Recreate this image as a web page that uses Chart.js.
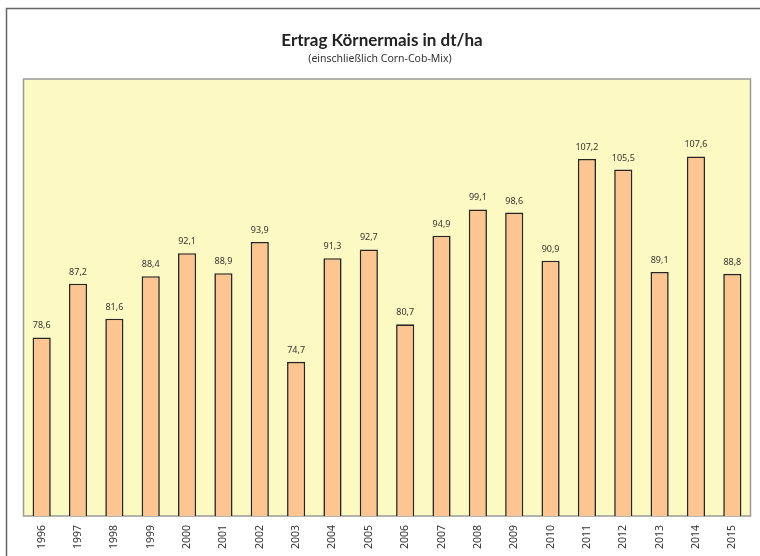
<!DOCTYPE html>
<html>
<head>
<meta charset="utf-8">
<script src="https://cdn.jsdelivr.net/npm/chart.js@4"></script>
<style>
html,body{margin:0;padding:0;background:#fff;}
#wrap{width:760px;height:556px;position:relative;}
</style>
</head>
<body>
<div id="wrap"><canvas id="c" width="760" height="556"></canvas></div>
<script>
const years = ['1996','1997','1998','1999','2000','2001','2002','2003','2004','2005','2006','2007','2008','2009','2010','2011','2012','2013','2014','2015'];
const ertrag = [78.6,87.2,81.6,88.4,92.1,88.9,93.9,74.7,91.3,92.7,80.7,94.9,99.1,98.6,90.9,107.2,105.5,89.1,107.6,88.8];
const titleText = 'Ertrag Körnermais in dt/ha';
const subtitleText = '(einschließlich Corn-Cob-Mix)';
const yMin = 50, yMax = 120;

const FONT = "'Noto Sans', 'Open Sans', sans-serif";
const TFONT = "Lato, 'Noto Sans', sans-serif";

const decor = {
  id: 'decor',
  beforeDraw(chart) {
    const ctx = chart.ctx;
    const a = chart.chartArea;
    ctx.save();
    ctx.strokeStyle = '#666';
    ctx.lineWidth = 1.5;
    ctx.beginPath();
    ctx.moveTo(6.5, 556);
    ctx.lineTo(6.5, 8.5);
    ctx.lineTo(760, 8.5);
    ctx.stroke();
    ctx.fillStyle = '#fcf9c3';
    ctx.fillRect(a.left, a.top, a.right - a.left, a.bottom - a.top);
    ctx.strokeStyle = '#9a9a9a';
    ctx.lineWidth = 1.5;
    ctx.strokeRect(a.left, a.top, a.right - a.left, a.bottom - a.top);
    ctx.fillStyle = '#222';
    ctx.textAlign = 'center';
    ctx.textBaseline = 'alphabetic';
    ctx.font = "bold 17px " + TFONT;
    ctx.fillText(titleText, 382, 46);
    ctx.font = "10.5px " + FONT;
    ctx.fillStyle = '#333';
    ctx.fillText(subtitleText, 380, 62);
    ctx.restore();
  },
  afterDatasetsDraw(chart) {
    const ctx = chart.ctx;
    const meta = chart.getDatasetMeta(0);
    ctx.save();
    ctx.fillStyle = '#333';
    ctx.font = "9px " + FONT;
    ctx.textAlign = 'center';
    ctx.textBaseline = 'alphabetic';
    meta.data.forEach((bar, i) => {
      const v = chart.data.datasets[0].data[i];
      ctx.fillText(v.toFixed(1).replace('.', ','), bar.x, bar.y - 9);
    });
    ctx.restore();
  }
};

new Chart(document.getElementById('c'), {
  type: 'bar',
  data: {
    labels: years,
    datasets: [{
      data: ertrag,
      backgroundColor: '#fdc592',
      borderColor: '#262626',
      borderWidth: 1.6,
      borderSkipped: 'bottom',
      barPercentage: 0.5,
      categoryPercentage: 1.0
    }]
  },
  options: {
    responsive: false,
    animation: false,
    devicePixelRatio: 1,
    layout: { padding: { left: 23.5, right: 9.5, top: 79, bottom: 0 } },
    plugins: { legend: { display: false }, title: { display: false }, tooltip: { enabled: false } },
    scales: {
      y: { display: false, min: yMin, max: yMax },
      x: {
        grid: { display: false },
        border: { display: false },
        ticks: {
          minRotation: 90, maxRotation: 90, padding: 1,
          color: '#333', font: { family: FONT, size: 10.5 }
        },
        afterFit(scale) { scale.height = 40; scale.paddingLeft = 0; scale.paddingRight = 0; }
      }
    }
  },
  plugins: [decor]
});
</script>
</body>
</html>
